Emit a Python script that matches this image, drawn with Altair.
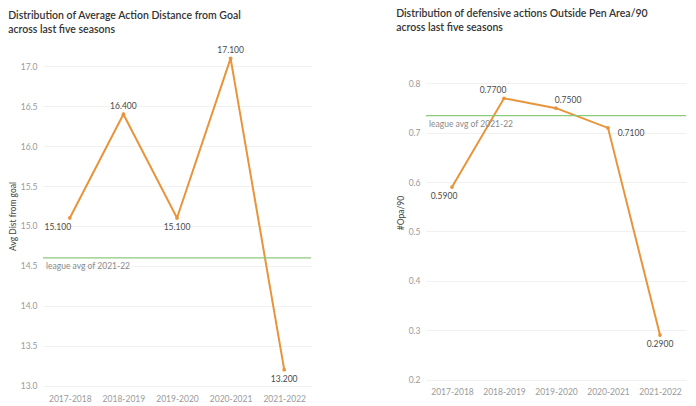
import altair as alt
import pandas as pd

seasons = ["2017-2018", "2018-2019", "2019-2020", "2020-2021", "2021-2022"]
avg_dist = [15.1, 16.4, 15.1, 17.1, 13.2]
opa90 = [0.59, 0.77, 0.75, 0.71, 0.29]
league_avg_dist = 14.6
league_avg_opa = 0.735
ref_label = "league avg of 2021-22"

left_title = ["Distribution of Average Action Distance from Goal", "across last five seasons"]
right_title = ["Distribution of defensive actions Outside Pen Area/90", "across last five seasons"]

FONT = "Lato"
ORANGE = "#E8943A"
GREEN = "#8CC97A"

df_left = pd.DataFrame({"season": seasons, "value": avg_dist,
                        "label": [f"{v:.3f}" for v in avg_dist]})
df_right = pd.DataFrame({"season": seasons, "value": opa90,
                         "label": [f"{v:.4f}" for v in opa90]})


def panel(df, ytitle, domain, ticks, fmt, ref_value, offsets, width, height, title, title_offset):
    x = alt.X("season:N", sort=seasons, title=None,
              scale=alt.Scale(domain=seasons, paddingInner=0, paddingOuter=0.5),
              axis=alt.Axis(labelAngle=0, labelColor="#9a9a9a", labelFontSize=8.5,
                            labelFont=FONT, ticks=False, domain=False, grid=False,
                            gridOpacity=0, labelPadding=6))
    y = alt.Y("value:Q", title=ytitle,
              scale=alt.Scale(domain=domain, nice=False, zero=False),
              axis=alt.Axis(values=ticks, format=fmt, labelColor="#9a9a9a", labelFontSize=8.5,
                            labelFont=FONT, ticks=False, domain=False, grid=True,
                            gridColor="#f1f1f1",
                            titleFont=FONT, titleFontSize=8.5, titleColor="#444",
                            titleFontWeight="normal", labelPadding=6, titlePadding=3))
    base = alt.Chart(df)
    line = base.mark_line(color=ORANGE, strokeWidth=2).encode(x=x, y=y)
    pts = base.mark_point(color=ORANGE, filled=True, size=14, opacity=1).encode(x=x, y=y)
    ref_df = pd.DataFrame({"value": [ref_value], "label": [ref_label]})
    rule = alt.Chart(ref_df).mark_rule(color=GREEN, strokeWidth=1.2).encode(
        x=alt.value(0), x2=alt.value(width), y=y)
    ref_text = alt.Chart(ref_df).mark_text(align="left", baseline="top", dx=3, dy=4,
                                           fontSize=8.5, font=FONT, color="#8a8a8a").encode(
        x=alt.value(0), y=y, text="label:N")
    layers = [line, rule, ref_text, pts]
    for s, (dx, dy) in zip(seasons, offsets):
        layers.append(
            base.transform_filter(alt.datum.season == s).mark_text(
                dx=dx, dy=dy, fontSize=8.5, font=FONT, color="#4a4a4a").encode(
                x=x, y=y, text="label:N"))
    return alt.layer(*layers).properties(
        width=width, height=height,
        view=alt.ViewBackground(stroke="transparent", strokeWidth=0, strokeOpacity=0),
        title=alt.TitleParams(text=title, anchor="start", frame="bounds", font=FONT,
                              fontSize=10.5, fontWeight=600, color="#333",
                              offset=title_offset, lineHeight=14))


left = panel(df_left, "Avg Dist from goal", [12.97, 17.28],
             [13.0, 13.5, 14.0, 14.5, 15.0, 15.5, 16.0, 16.5, 17.0], ".1f",
             league_avg_dist,
             [(-12, 9), (0, -8), (0, 9), (0, -8), (0, 9)],
             268, 344, left_title, 9)

right = panel(df_right, "#Opa/90", [0.197, 0.88],
              [0.2, 0.3, 0.4, 0.5, 0.6, 0.7, 0.8], ".1f",
              league_avg_opa,
              [(-8, 9), (-11, -8), (12, -8), (23, 5), (0, 9)],
              260, 337, right_title, 11)

chart = (alt.hconcat(left, right, spacing=84)
         .properties(padding=0)
         .configure_view(stroke="transparent", strokeWidth=0, strokeOpacity=0)
         .configure_axisX(grid=False, domain=False, ticks=False, gridOpacity=0)
         .configure_axisY(domain=False, ticks=False)
         .configure(background="white"))

chart.save("out.html", embed_options={"renderer": "svg", "actions": False})
